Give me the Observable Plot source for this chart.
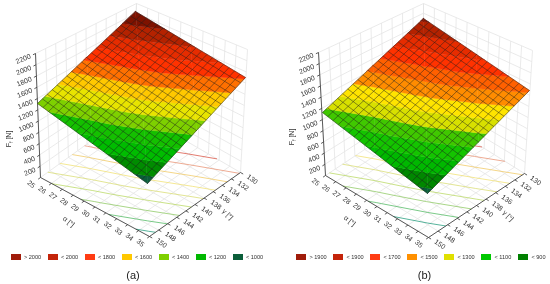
<!DOCTYPE html>
<html><head><meta charset="utf-8">
<script src="https://cdn.jsdelivr.net/npm/d3@7"></script>
<script src="https://cdn.jsdelivr.net/npm/@observablehq/plot@0.6"></script>
<style>
html,body{margin:0;padding:0;background:#fff}
#root{display:flex;width:550px;height:284px;overflow:hidden;font-family:"Liberation Sans",Arial,sans-serif;filter:blur(.3px)}
.col{width:275px;position:relative}
.col svg{display:block}
.legend{display:flex;height:12px;margin-top:0;font-size:5.6px;color:#333;align-items:center}
.item{width:37px;flex:none;display:flex;align-items:center}
.sw{width:10px;height:6px;margin-right:3.4px;flex:none}
.cap{text-align:center;font-size:11px;line-height:16px;margin-top:4px;color:#222}
</style></head><body><div id="root"></div>
<script>
// axis values
const alphaTicks=[25,26,27,28,29,30,31,32,33,34,35];
const gammaTicks=[130,132,134,136,138,140,142,144,146,148,150];
const forceTicks=[200,400,600,800,1000,1200,1400,1600,1800,2000,2200];
const alphaMesh=d3.range(25,35.01,.5), gammaMesh=d3.range(130,150.01,1);
const alphaKnots=[25,30,35], gammaKnots=[130,140,150];
// F at alphaKnots (columns) x gammaKnots (rows)
const forceA=[[2100,1915,1710],[1720,1540,1330],[1340,1150,950]];
const forceB=[[1920,1735,1515],[1545,1355,1140],[1170,965,765]];
// colour bands
const levelsA=[0,1000,1100,1200,1300,1400,1500,1600,1700,1800,1900,2000,3000];
const colorsA=["#0b5e3a","#008c00","#00bc00","#14c000","#7ed000","#e8e400","#ffc800","#ff7000","#ff3200","#e62c00","#b42200","#7e1200"];
const levelsB=[0,800,900,1000,1100,1200,1300,1400,1500,1600,1700,1800,1900,3000];
const colorsB=["#0b5e3a","#008800","#00b800","#14c400","#40c800","#d8e000","#ffe400","#ff8c00","#ff6000","#ff3200","#e62c00","#b42200","#7e1200"];
// floor contours
const contourA=[1000,1100,1200,1300,1400,1500,1600,1700,1800];
const contourColorsA=["#1f9a7a","#4fb860","#8cc860","#b8d860","#d8dc70","#f0e070","#f0c860","#e89070","#d85040"];
const contourB=[900,1000,1100,1200,1300,1400,1500,1600,1700];
const contourColorsB=contourColorsA;
// legend
const legendLabelsA=["> 2000","< 2000","< 1800","< 1600","< 1400","< 1200","< 1000"];
const legendColorsA=["#a01c0a","#c4240a","#ff3c14","#ffc800","#7fd000","#00b800","#0b5e3a"];
const legendLabelsB=["> 1900","< 1900","< 1700","< 1500","< 1300","< 1100","< 900"];
const legendColorsB=["#a01c0a","#c4240a","#ff3c14","#ff9000","#e0e000","#00c800","#008000"];

function bilinear(c,a,g){ // c: back,left,right,front
  const u=(a-25)/10,v=(g-130)/20;
  return [0,1].map(i=>(1-u)*(1-v)*c.back[i]+(1-u)*v*c.left[i]+u*(1-v)*c.right[i]+u*v*c.front[i]);
}
function panel(o){
  const fl=(a,g)=>bilinear(o.floor,a,g);
  const t=o.top, topC={back:t.back,left:t.left,right:t.right,front:[t.left[0]+t.right[0]-t.back[0],t.left[1]+t.right[1]-t.back[1]]};
  const box=(a,g,F)=>{const b=fl(a,g),p=bilinear(topC,a,g),f=F/2200;return [b[0]+(p[0]-b[0])*f,b[1]+(p[1]-b[1])*f]};
  const surf=(a,g)=>bilinear(o.surface,a,g);
  const seg=(p,q)=>({x1:p[0],y1:p[1],x2:q[0],y2:q[1]});
  // background grid
  const grid=[];
  alphaTicks.forEach(a=>{grid.push(seg(fl(a,130),fl(a,150)));grid.push(seg(box(a,130,0),box(a,130,2200)))});
  gammaTicks.forEach(g=>{grid.push(seg(fl(25,g),fl(35,g)));grid.push(seg(box(25,g,0),box(25,g,2200)))});
  forceTicks.forEach(F=>{grid.push(seg(box(25,130,F),box(25,150,F)));grid.push(seg(box(25,130,F),box(35,130,F)))});
  // triangles on knots
  const tris=[];
  for(let i=0;i<2;i++)for(let j=0;j<2;j++){
    const P=(r,c)=>({a:alphaKnots[c],g:gammaKnots[r],F:o.force[r][c]});
    tris.push([P(i,j),P(i,j+1),P(i+1,j+1)]);
    tris.push([P(i,j),P(i+1,j+1),P(i+1,j)]);
  }
  const lerp=(p,q,L)=>{const s=(L-p.F)/(q.F-p.F);return {a:p.a+(q.a-p.a)*s,g:p.g+(q.g-p.g)*s,F:L}};
  const clip=(poly,L,keepAbove)=>{
    const out=[];
    poly.forEach((p,i)=>{const q=poly[(i+1)%poly.length];
      const pi=keepAbove?p.F>=L:p.F<=L,qi=keepAbove?q.F>=L:q.F<=L;
      if(pi)out.push(p);
      if(pi!==qi)out.push(lerp(p,q,L));});
    return out;
  };
  const bandMarks=[];
  o.colors.forEach((col,k)=>{
    const pts=[];
    tris.forEach((tr,n)=>{
      let poly=clip(clip(tr,o.levels[k],true),o.levels[k+1],false);
      if(poly.length>2)poly.forEach(p=>{const s=surf(p.a,p.g);pts.push({x:s[0],y:s[1],id:n})});
    });
    if(pts.length)bandMarks.push(Plot.line(pts,{x:"x",y:"y",z:"id",fill:col,stroke:col,strokeWidth:.5,curve:"linear-closed"}));
  });
  // floor contours
  const contourMarks=o.contours.map((L,k)=>{
    const segs=[];
    tris.forEach(tr=>{
      const cut=[];
      tr.forEach((p,i)=>{const q=tr[(i+1)%3];if((p.F-L)*(q.F-L)<0)cut.push(lerp(p,q,L))});
      if(cut.length==2)segs.push(seg(fl(cut[0].a,cut[0].g),fl(cut[1].a,cut[1].g)));
    });
    return Plot.link(segs,{x1:"x1",y1:"y1",x2:"x2",y2:"y2",stroke:o.contourColors[k],strokeWidth:.75});
  });
  // mesh
  const mesh=[];
  alphaMesh.forEach(a=>mesh.push(seg(surf(a,130),surf(a,150))));
  gammaMesh.forEach(g=>mesh.push(seg(surf(25,g),surf(35,g))));
  // axes and ticks
  const axes=[seg(fl(25,150),fl(35,150)),seg(fl(35,150),fl(35,130)),seg(box(25,150,0),box(25,150,2200))];
  alphaTicks.forEach(a=>axes.push(seg(fl(a,150),fl(a,150.5))));
  gammaTicks.forEach(g=>axes.push(seg(fl(35,g),fl(35.25,g))));
  forceTicks.forEach(F=>axes.push(seg(box(25,150,F),box(25,150.5,F))));
  const P=(f,txt)=>{const p=f();return {x:p[0],y:p[1],t:String(txt)}};
  const txtCommon={x:"x",y:"y",text:"t",fontSize:7,fill:"#333",fontFamily:"Liberation Sans, Arial, sans-serif"};
  const svg=Plot.plot({width:275,height:251,margin:0,
    x:{domain:[0,275],range:[0,275],axis:null},y:{domain:[0,251],range:[0,251],axis:null},
    marks:[
      Plot.link(grid,{x1:"x1",y1:"y1",x2:"x2",y2:"y2",stroke:"#e4e4e4",strokeWidth:.8}),
      ...contourMarks,
      Plot.link(axes,{x1:"x1",y1:"y1",x2:"x2",y2:"y2",stroke:"#333",strokeWidth:.8}),
      ...bandMarks,
      Plot.link(mesh,{x1:"x1",y1:"y1",x2:"x2",y2:"y2",stroke:"#1c1c1c",strokeOpacity:.62,strokeWidth:.75}),
      Plot.text(alphaTicks.map(a=>P(()=>fl(a,150+o.la),a)),{...txtCommon,rotate:40}),
      Plot.text(gammaTicks.map(g=>P(()=>fl(35+o.lg,g),g)),{...txtCommon,rotate:35}),
      Plot.text(forceTicks.map(F=>P(()=>box(25,151,F),F)),{...txtCommon,rotate:-22,textAnchor:"end"}),
      Plot.text([P(()=>fl(o.ta[0],o.ta[1]),"α [°]")],{...txtCommon,rotate:38}),
      Plot.text([P(()=>fl(o.tg[0],o.tg[1]),"γ [°]")],{...txtCommon,rotate:45}),
      Plot.text([P(()=>box(25,o.tf[0],o.tf[1]),"Ff [N]")],{...txtCommon,rotate:-90})
    ]});
  d3.select(svg).selectAll("text tspan, text").filter(function(){return this.textContent==="Ff [N]"&&!this.querySelector("tspan")}).each(function(){
    const el=d3.select(this);el.text(null);
    el.append("tspan").text("F");
    el.append("tspan").text("f").attr("dy","1.5").attr("font-size",5);
    el.append("tspan").text(" [N]").attr("dy","-1.5");
  });
  const col=d3.select("#root").append("div").attr("class","col");
  col.node().appendChild(svg);
  const leg=col.append("div").attr("class","legend").style("padding-left",o.legendLeft+"px");
  o.legendLabels.forEach((l,i)=>{
    const it=leg.append("div").attr("class","item");
    it.append("div").attr("class","sw").style("background",o.legendColors[i]);
    it.append("span").text(l);
  });
  col.append("div").attr("class","cap").style("padding-left",o.capShift+"px").style("padding-right",o.capRight+"px").text(o.caption);
}
panel({
  force:forceA,levels:levelsA,colors:colorsA,contours:contourA,contourColors:contourColorsA,
  floor:{back:[133,110],left:[40,177],right:[240,172],front:[149,236]},
  top:{back:[136,3],left:[35,53],right:[247,49]},
  surface:{back:[135,11],left:[37,103],right:[245,77],front:[147,183]},
  la:2,lg:1.1,ta:[29.7,155],tg:[37.4,138.5],tf:[156,1000],
  legendLeft:10.5,legendLabels:legendLabelsA,legendColors:legendColorsA,caption:"(a)",capShift:0,capRight:9
});
panel({
  force:forceB,levels:levelsB,colors:colorsB,contours:contourB,contourColors:contourColorsB,
  floor:{back:[148,110],left:[50,175],right:[249,173],front:[153,237]},
  top:{back:[148,3],left:[43,52],right:[257,50]},
  surface:{back:[148,18],left:[47,112],right:[254,90],front:[152,193]},
  la:2,lg:1.1,ta:[29.7,155],tg:[37.4,138.5],tf:[156,1000],
  legendLeft:21,legendLabels:legendLabelsB,legendColors:legendColorsB,caption:"(b)",capShift:24,capRight:0
});
</script></body></html>
